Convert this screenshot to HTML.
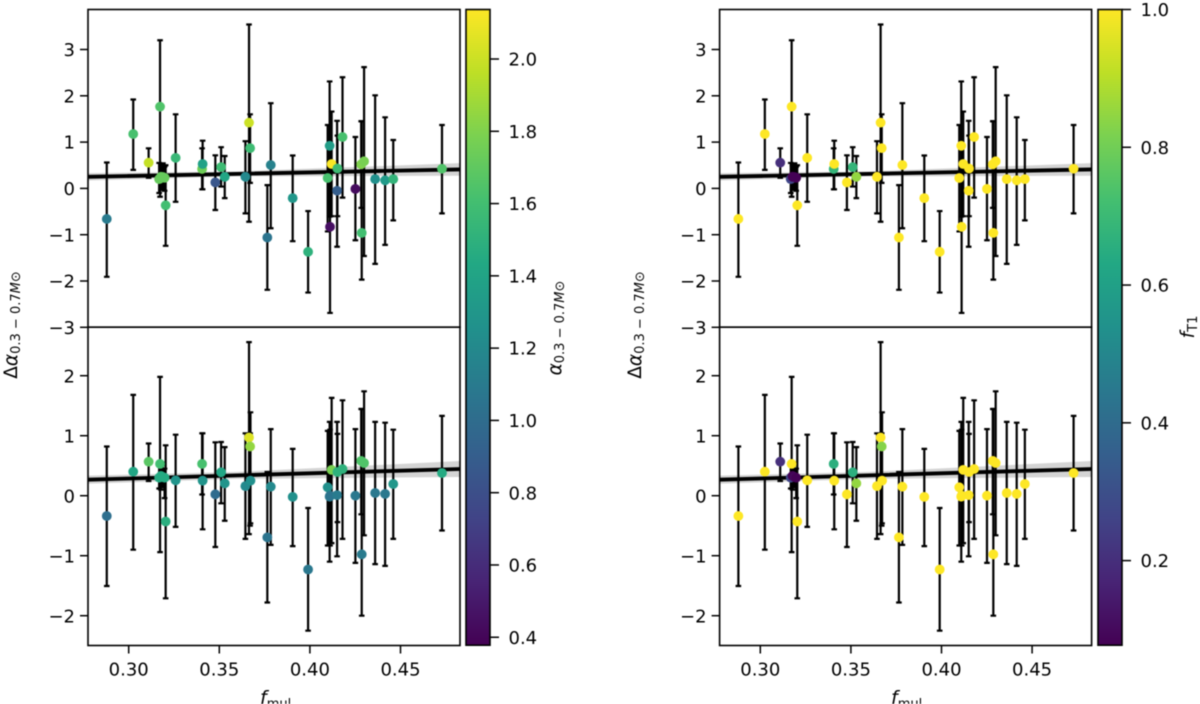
<!DOCTYPE html>
<html lang="en">
<head>
<meta charset="utf-8">
<title>Delta alpha versus f_mul</title>
<style>
html,body{margin:0;padding:0;background:#fff;width:1200px;height:704px;overflow:hidden}
svg{display:block;filter:blur(0.4px)}
text{font-family:"DejaVu Sans","Liberation Sans",sans-serif;fill:#000}
</style>
</head>
<body>
<svg id="chart" xmlns="http://www.w3.org/2000/svg" width="1200" height="704" viewBox="0 0 1200 704">
<defs>
<linearGradient id="viridis" x1="0" y1="1" x2="0" y2="0">
<stop offset="0" stop-color="#440154"/><stop offset="0.1" stop-color="#482475"/><stop offset="0.2" stop-color="#414487"/><stop offset="0.3" stop-color="#355f8d"/><stop offset="0.4" stop-color="#2a788e"/><stop offset="0.5" stop-color="#21918c"/><stop offset="0.6" stop-color="#22a884"/><stop offset="0.7" stop-color="#44bf70"/><stop offset="0.8" stop-color="#7ad151"/><stop offset="0.9" stop-color="#bddf26"/><stop offset="1" stop-color="#fde725"/>
</linearGradient>
</defs>
<g id="layer"></g>
<text transform="translate(17,325) rotate(-90)" text-anchor="middle" font-size="18.5">Δ<tspan font-style="italic">α</tspan><tspan font-size="13" dy="3">0.3 − 0.7</tspan><tspan font-size="13" font-style="italic">M</tspan><tspan font-size="13">⊙</tspan></text>
<text transform="translate(641,325) rotate(-90)" text-anchor="middle" font-size="18.5">Δ<tspan font-style="italic">α</tspan><tspan font-size="13" dy="3">0.3 − 0.7</tspan><tspan font-size="13" font-style="italic">M</tspan><tspan font-size="13">⊙</tspan></text>
<text transform="translate(561,328) rotate(-90)" text-anchor="middle" font-size="18.5"><tspan font-style="italic">α</tspan><tspan font-size="13" dy="3">0.3 − 0.7</tspan><tspan font-size="13" font-style="italic">M</tspan><tspan font-size="13">⊙</tspan></text>
<text transform="translate(1194,327) rotate(-90)" text-anchor="middle" font-size="18.5"><tspan font-style="italic">f</tspan><tspan font-size="13" dy="3">T1</tspan></text>
<text x="260" y="704" font-size="19"><tspan font-style="italic">f</tspan><tspan font-size="13" dy="4">mul</tspan></text>
<text x="891" y="704" font-size="19"><tspan font-style="italic">f</tspan><tspan font-size="13" dy="4">mul</tspan></text>
</svg>
<script>
const fMul = [.2879,.3025,.311,.3173,.3168,.3178,.3189,.3198,.3204,.3259,.3405,.3408,.3478,.351,.353,.3644,.3664,.367,.3765,.3784,.3905,.399,.4098,.4109,.4111,.412,.415,.4152,.418,.4251,.4286,.4283,.4299,.436,.4415,.446,.4729,.3672];

const topDelta = [-.66,1.175,.555,1.765,.2,.25,.245,.23,-.365,.66,.42,.527,.13,.46,.25,.25,1.42,.87,-1.06,.505,-.21,-1.37,.225,.92,-.83,.527,-.05,.43,1.11,-.01,-.96,.52,.585,.2,.175,.2,.425,null];
const topHigh = [.56,1.92,.866,3.2,.55,.5,.54,.47,.5,1.6,.866,1.03,.715,.89,.7,1.02,3.54,1.6,.07,1.84,.71,-.49,1.37,2.31,1,1.66,1.46,1.14,2.4,1.11,1.45,1.45,2.62,2.01,1.535,1.045,1.37,null];
const topLow = [-1.91,.4,.23,-.18,-.1,-.03,-.02,-.05,-1.24,-.29,-.02,-.02,-.467,.04,-.21,-.54,-.72,.12,-2.19,-.86,-1.14,-2.25,-.93,-.61,-2.69,-.6,-1.26,-.6,-.2,-1.12,-1.97,-.42,-1.46,-1.63,-1.22,-.69,-.54,null];

const bottomDelta = [-.338,.4,.567,.53,.3,.33,.31,.3,-.43,.256,.53,.25,.023,.39,.206,.16,.97,.82,-.694,.15,-.02,-1.23,.14,-.017,0,.43,.01,.395,.445,0,-.977,.58,.545,.045,.03,.195,.378,.25];
const bottomHigh = [.82,1.68,.87,1.98,.52,.5,.55,.45,.84,1.017,1.04,1.04,.89,.895,.81,1.04,2.56,1.04,.395,1.11,.78,-.205,1.08,1.23,1.1,1.63,1.23,1.03,1.59,1.11,1.445,1.445,1.74,1.23,1.217,1.1,1.33,1.39];
const bottomLow = [-1.505,-.9,.245,-.94,.12,.1,.14,-.04,-1.71,-.52,.02,-.56,-.855,-.127,-.417,-.72,-.64,-.5,-1.78,-.82,-.84,-2.25,-.83,-1.1,-.83,-.79,-1.01,-.44,-.72,-1.12,-2,-.31,-.66,-1.14,-1.17,-.72,-.58,-.46];

const alphaTop = [1.1,1.62,1.98,1.65,1.72,1.72,1.72,1.72,1.6,1.55,1.75,1.38,.85,1.58,1.42,1.2,2,1.58,1.05,1.15,1.3,1.5,1.62,1.35,.45,2.13,.9,1.58,1.62,.43,1.6,1.8,1.78,1.25,1.33,1.52,1.65,1.25];
const alphaBottom = [1.02,1.42,1.68,1.6,1.45,1.45,1.45,1.45,1.48,1.28,1.62,1.28,1,1.42,1.28,1.2,2.05,1.85,1.05,1.2,1.25,1.08,1.25,1.1,1.05,1.78,1.1,1.5,1.5,1.08,1.1,1.65,1.65,1.08,1.08,1.3,1.45,1.25];
const ft1Top = [1,1,.2,1,.27,.08,.08,.08,1,1,.68,1,1,.68,.85,1,1,1,1,1,1,1,1,1,1,1,1,1,1,1,1,1,1,1,1,1,1,1];
const ft1Bottom = [1,1,.2,1,.27,.08,.1,.08,1,1,.66,1,1,.66,.85,1,1,.83,1,1,1,1,1,1,1,1,1,1,1,1,1,1,1,1,1,1,1,1];

const fitF = [.2775,.36,.4827];
const fitTop = [.25,.314,.41];
const fitTopUpper = [.33,.369,.546];
const fitTopLower = [.17,.259,.274];
const fitBottom = [.267,.339,.445];
const fitBottomUpper = [.334,.397,.578];
const fitBottomLower = [.2,.281,.312];

const xTicks = [.30,.35,.40,.45];
const xTickLabels = ['0.30','0.35','0.40','0.45'];
const yTicksTop = [3,2,1,0,-1,-2,-3];
const yTickLabelsTop = ['3','2','1','0','−1','−2','−3'];
const yTicksBottom = [2,1,0,-1,-2];
const yTickLabelsBottom = ['2','1','0','−1','−2'];
const alphaTicks = [.4,.6,.8,1,1.2,1.4,1.6,1.8,2];
const alphaTickLabels = ['0.4','0.6','0.8','1.0','1.2','1.4','1.6','1.8','2.0'];
const ft1Ticks = [.2,.4,.6,.8,1];
const ft1TickLabels = ['0.2','0.4','0.6','0.8','1.0'];
const viridisStops = ['#440154','#482475','#414487','#355f8d','#2a788e','#21918c','#22a884','#44bf70','#7ad151','#bddf26','#fde725'];

const NS = 'http://www.w3.org/2000/svg';
const layer = document.getElementById('layer');
function make(tag, attrs, parent) {
  const el = document.createElementNS(NS, tag);
  for (const k in attrs) el.setAttribute(k, attrs[k]);
  (parent || layer).appendChild(el);
  return el;
}
function hexToRgb(h) {
  return [parseInt(h.slice(1,3),16), parseInt(h.slice(3,5),16), parseInt(h.slice(5,7),16)];
}
function viridis(t) {
  const c = Math.max(0, Math.min(1, t)) * (viridisStops.length - 1);
  const i = Math.min(Math.floor(c), viridisStops.length - 2);
  const a = hexToRgb(viridisStops[i]), b = hexToRgb(viridisStops[i + 1]);
  const m = c - i;
  return 'rgb(' + a.map((v, j) => Math.round(v + (b[j] - v) * m)).join(',') + ')';
}
const SY_TOP = v => 188.4 - 46.3 * v;
const SY_BOTTOM = v => 495.7 - 60 * v;
const sxFor = shift => f => 128.7 + shift + (f - .3) * 1812;

function drawPanel(name, left, sx, sy, delta, high, low, colors, cmin, cmax, fitMid, fitUp, fitLo) {
  const g = make('g', {});
  
  
  const errs = make('g', {fill: 'none', stroke: '#000', 'stroke-width': 2.2}, g);
  
  
  fMul.forEach((f, i) => {
    if (delta[i] === null) return;
    const x = sx(f);
    const bar = make('path', {d: 'M' + x + ' ' + sy(high[i]) + 'V' + sy(low[i]) + 'M' + (x - 2.8) + ' ' + sy(high[i]) + 'H' + (x + 2.8) + 'M' + (x - 2.8) + ' ' + sy(low[i]) + 'H' + (x + 2.8)}, errs);
    
    
  });
  const upper = fitF.map((f, i) => sx(f) + ',' + sy(fitUp[i]));
  const lower = fitF.map((f, i) => sx(f) + ',' + sy(fitLo[i])).reverse();
  const band = make('polygon', {points: upper.concat(lower).join(' '), fill: '#000', 'fill-opacity': .17}, g);
  
  
  const line = make('polyline', {points: fitF.map((f, i) => sx(f) + ',' + sy(fitMid[i])).join(' '), fill: 'none', stroke: '#000', 'stroke-width': 3.8}, g);
  
  
  fMul.forEach((f, i) => {
    if (delta[i] === null) return;
    const dot = make('circle', {cx: sx(f), cy: sy(delta[i]), r: 4.9, fill: viridis((colors[i] - cmin) / (cmax - cmin))}, g);
    
    
  });
}

function drawAxes(name, left, right, sx, yTop, yBottom, ticks, labels, sy, withXTicks) {
  const g = make('g', {});
  
  
  const frame = make('rect', {x: left, y: yTop, width: right - left, height: yBottom - yTop, fill: 'none', stroke: '#000', 'stroke-width': 1.6}, g);
  
  
  ticks.forEach((v, i) => {
    const y = sy(v);
    const t = make('line', {x1: left - 8, x2: left, y1: y, y2: y, stroke: '#000', 'stroke-width': 1.5}, g);
    
    
    const lab = make('text', {x: left - 13, y: y + 6.6, 'text-anchor': 'end', 'font-size': 18}, g);
    
    
    lab.textContent = labels[i];
  });
  if (withXTicks) {
    xTicks.forEach((v, i) => {
      const x = sx(v);
      const t = make('line', {x1: x, x2: x, y1: yBottom, y2: yBottom + 8, stroke: '#000', 'stroke-width': 1.5}, g);
      
      
      const lab = make('text', {x: x, y: 675.5, 'text-anchor': 'middle', 'font-size': 18}, g);
      
      
      lab.textContent = xTickLabels[i];
    });
  }
}

function drawColorbar(name, x0, x1, yTop, yBottom, cmin, cmax, ticks, labels) {
  const g = make('g', {});
  
  
  const bar = make('rect', {x: x0, y: yTop, width: x1 - x0, height: yBottom - yTop, fill: 'url(#viridis)', stroke: '#000', 'stroke-width': 1.6}, g);
  
  
  const cy = v => yBottom - (v - cmin) / (cmax - cmin) * (yBottom - yTop);
  ticks.forEach((v, i) => {
    const y = cy(v);
    const t = make('line', {x1: x1, x2: x1 + 9, y1: y, y2: y, stroke: '#000', 'stroke-width': 1.5}, g);
    
    
    const lab = make('text', {x: x1 + 18.5, y: y + 6.6, 'font-size': 18}, g);
    
    
    lab.textContent = labels[i];
  });
}

const sxL = sxFor(0), sxR = sxFor(631.6);
const A_MIN = .378, A_MAX = 2.137, F_MIN = .0772, F_MAX = 1;
drawPanel('left-top-panel', 88, sxL, SY_TOP, topDelta, topHigh, topLow, alphaTop, A_MIN, A_MAX, fitTop, fitTopUpper, fitTopLower);
drawPanel('left-bottom-panel', 88, sxL, SY_BOTTOM, bottomDelta, bottomHigh, bottomLow, alphaBottom, A_MIN, A_MAX, fitBottom, fitBottomUpper, fitBottomLower);
drawPanel('right-top-panel', 719.6, sxR, SY_TOP, topDelta, topHigh, topLow, ft1Top, F_MIN, F_MAX, fitTop, fitTopUpper, fitTopLower);
drawPanel('right-bottom-panel', 719.6, sxR, SY_BOTTOM, bottomDelta, bottomHigh, bottomLow, ft1Bottom, F_MIN, F_MAX, fitBottom, fitBottomUpper, fitBottomLower);
drawAxes('left-top-axes', 88, 460, sxL, 9.5, 327.2, yTicksTop, yTickLabelsTop, SY_TOP, false);
drawAxes('left-bottom-axes', 88, 460, sxL, 327.2, 645.5, yTicksBottom, yTickLabelsBottom, SY_BOTTOM, true);
drawAxes('right-top-axes', 719.6, 1091.6, sxR, 9.5, 327.2, yTicksTop, yTickLabelsTop, SY_TOP, false);
drawAxes('right-bottom-axes', 719.6, 1091.6, sxR, 327.2, 645.5, yTicksBottom, yTickLabelsBottom, SY_BOTTOM, true);
drawColorbar('alpha-colorbar', 466, 490, 9.5, 645.2, A_MIN, A_MAX, alphaTicks, alphaTickLabels);
drawColorbar('ft1-colorbar', 1098, 1122, 9.5, 645.2, F_MIN, F_MAX, ft1Ticks, ft1TickLabels);
</script>
</body>
</html>
